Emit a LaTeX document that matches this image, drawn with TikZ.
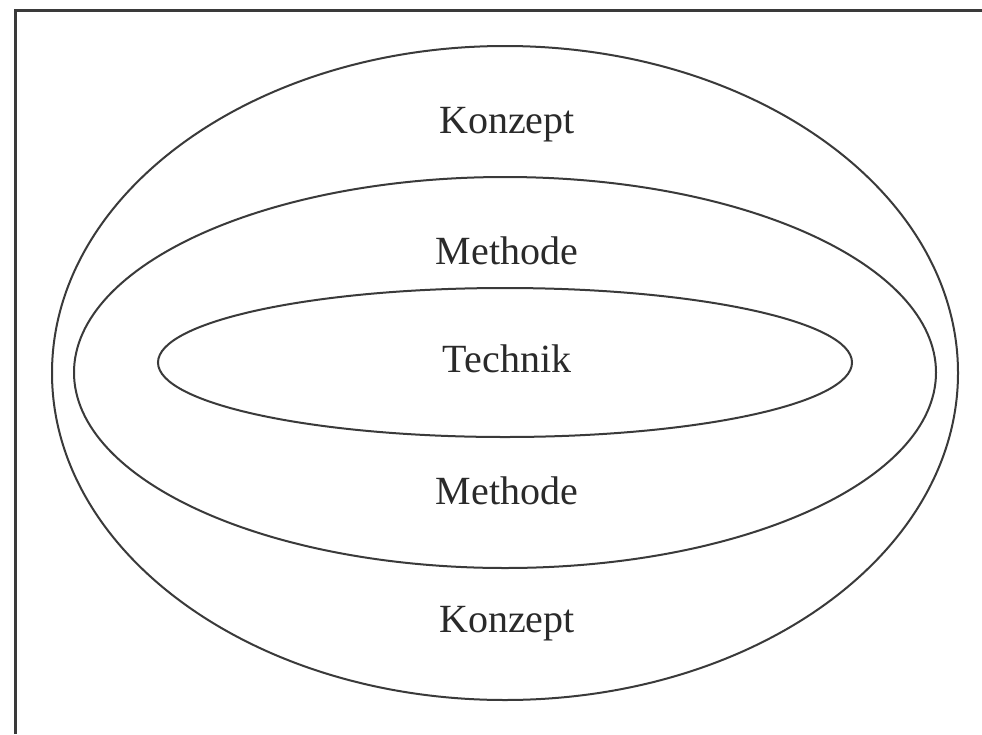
\documentclass[tikz,border=0pt]{standalone}
\usepackage{fontspec}
\setmainfont{Liberation Serif}
\usetikzlibrary{shapes.geometric}
\definecolor{ink}{HTML}{3A3A3A}
\definecolor{txt}{HTML}{2A2A2A}
\begin{document}
\begin{tikzpicture}[x=1pt,y=-1pt,
  ring/.style={ellipse,draw=ink,line width=2pt,inner sep=0pt},
  lbl/.style={anchor=base,text=txt,inner sep=0pt,font=\fontsize{40}{48}\selectfont}]
\useasboundingbox (0,0) rectangle (982,734);
\fill[white] (0,0) rectangle (982,734);
\draw[ink,line width=3pt] (15,734) -- (15,10) -- (982,10);
\node[ring,minimum width=906pt,minimum height=654pt] (outer) at (505,373) {};
\node[ring,minimum width=862pt,minimum height=391pt] (middle) at (505,372.5) {};
\node[ring,minimum width=694pt,minimum height=149pt] (inner) at (505,362.5) {};
\node[lbl] (k1) at (507,133) {Konzept};
\node[lbl] (m1) at (507,264) {Methode};
\node[lbl] (t) at (507,372) {Technik};
\node[lbl] (m2) at (507,504) {Methode};
\node[lbl] (k2) at (507,632) {Konzept};
\end{tikzpicture}
\end{document}
